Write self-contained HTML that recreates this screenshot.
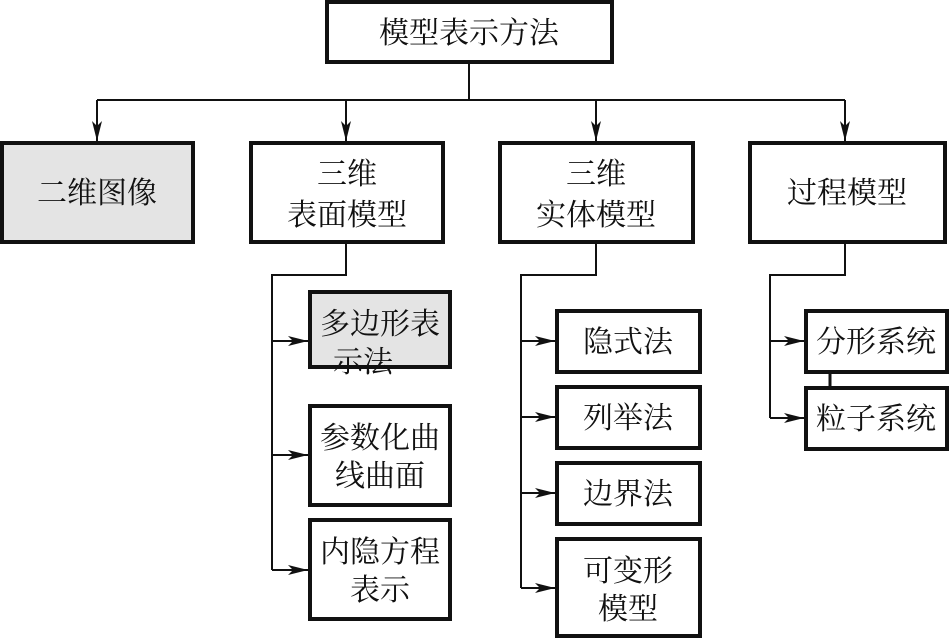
<!DOCTYPE html>
<html><head><meta charset="utf-8"><style>
html,body{margin:0;padding:0;background:#fff;}
svg{display:block;}
text{font-family:"Liberation Serif","Noto Serif CJK SC","Noto Sans CJK SC",serif;font-size:30px;fill:#111;text-anchor:middle;}
</style></head><body>
<svg width="950" height="641" viewBox="0 0 950 641" xmlns="http://www.w3.org/2000/svg">
<defs>
<marker id="a" viewBox="0 0 20 10" refX="20" refY="5" markerWidth="20" markerHeight="10" markerUnits="userSpaceOnUse" orient="auto">
<path d="M0,0 L20,5 L0,10 L5,5 Z" fill="#111"/>
</marker>
</defs>
<g stroke="#111" stroke-width="2" fill="none">
<line x1="469" y1="62" x2="469" y2="100"/>
<line x1="97" y1="100" x2="845" y2="100"/>
<line x1="97" y1="100" x2="97" y2="141" marker-end="url(#a)"/>
<line x1="346" y1="100" x2="346" y2="141" marker-end="url(#a)"/>
<line x1="596" y1="100" x2="596" y2="141" marker-end="url(#a)"/>
<line x1="845" y1="100" x2="845" y2="141" marker-end="url(#a)"/>
<polyline points="346,242 346,275 272,275 272,570"/>
<line x1="272" y1="341" x2="308" y2="341" marker-end="url(#a)"/>
<line x1="272" y1="455" x2="308" y2="455" marker-end="url(#a)"/>
<line x1="272" y1="570" x2="308" y2="570" marker-end="url(#a)"/>
<polyline points="596,242 596,275 521,275 521,588"/>
<line x1="521" y1="341" x2="555" y2="341" marker-end="url(#a)"/>
<line x1="521" y1="417" x2="555" y2="417" marker-end="url(#a)"/>
<line x1="521" y1="493" x2="555" y2="493" marker-end="url(#a)"/>
<line x1="521" y1="588" x2="555" y2="588" marker-end="url(#a)"/>
<polyline points="845,242 845,275 770,275 770,418"/>
<line x1="770" y1="341" x2="804" y2="341" marker-end="url(#a)"/>
<line x1="770" y1="418" x2="804" y2="418" marker-end="url(#a)"/>
<line x1="830" y1="372" x2="830" y2="388" stroke-width="3"/>
</g>
<g stroke="#111" stroke-width="4">
<rect x="327" y="2" width="285" height="60" fill="#fff"/>
<rect x="2" y="143" width="191" height="99" fill="#e4e4e4"/>
<rect x="251" y="143" width="192" height="99" fill="#fff"/>
<rect x="500" y="143" width="193" height="99" fill="#fff"/>
<rect x="750" y="143" width="195" height="99" fill="#fff"/>
<rect x="310" y="292" width="140" height="75" fill="#e4e4e4"/>
<rect x="310" y="406" width="140" height="99" fill="#fff"/>
<rect x="310" y="520" width="140" height="99" fill="#fff"/>
<rect x="557" y="311" width="143" height="61" fill="#fff"/>
<rect x="557" y="387" width="143" height="61" fill="#fff"/>
<rect x="557" y="463" width="143" height="61" fill="#fff"/>
<rect x="557" y="539" width="143" height="97" fill="#fff"/>
<rect x="806" y="311" width="141" height="61" fill="#fff"/>
<rect x="806" y="388" width="141" height="61" fill="#fff"/>
</g>
<text x="469" y="43">模型表示方法</text>
<text x="97" y="203">二维图像</text>
<text x="347" y="184">三维</text>
<text x="347" y="225">表面模型</text>
<text x="596" y="184">三维</text>
<text x="596" y="225">实体模型</text>
<text x="847" y="203">过程模型</text>
<text x="380" y="334">多边形表</text>
<text x="363" y="372">示法</text>
<text x="380" y="448">参数化曲</text>
<text x="380" y="486">线曲面</text>
<text x="380" y="562">内隐方程</text>
<text x="380" y="600">表示</text>
<text x="628" y="352">隐式法</text>
<text x="628" y="428">列举法</text>
<text x="628" y="504">边界法</text>
<text x="628" y="581">可变形</text>
<text x="628" y="619">模型</text>
<text x="876" y="352">分形系统</text>
<text x="876" y="429">粒子系统</text>
</svg>
</body></html>
